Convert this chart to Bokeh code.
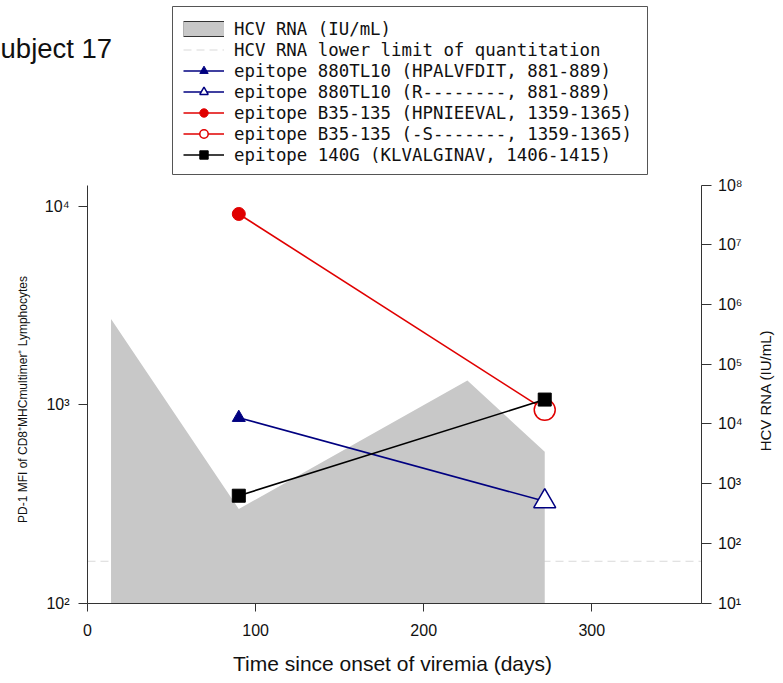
import math
from bokeh.plotting import figure
from bokeh.models import (Range1d, LogScale, LogAxis, LinearAxis, FixedTicker, Legend, LegendItem,
                          Label, CustomJSTickFormatter, BoxAnnotation)
from bokeh.embed import file_html
from bokeh.resources import INLINE

# ---------------- data ----------------
rna_days = [14, 90, 226, 272]
rna_values = [5.7e5, 376, 5.3e4, 3.4e3]
rna_floor = 10
lloq_value = 50
lloq_days = [0, 365]

sample_days = [90, 272]
mfi_880TL10 = [862, 326]      # wild type (filled) -> variant R-------- (open)
mfi_B35_135 = [9200, 944]     # wild type (filled) -> variant -S------- (open)
mfi_140G = [348, 1064]

x_ticks = [0, 100, 200, 300]
left_ticks = [100, 1000, 10000]
right_ticks = [10, 100, 1000, 10000, 100000, 1000000, 10000000, 100000000]

x_bounds = (0, 365)
left_bounds = (100, 10 ** 4.11)
right_bounds = (10, 1e8)

labels = [
    "HCV RNA (IU/mL)",
    "HCV RNA lower limit of quantitation",
    "epitope 880TL10 (HPALVFDIT, 881-889)",
    "epitope 880TL10 (R--------, 881-889)",
    "epitope B35-135 (HPNIEEVAL, 1359-1365)",
    "epitope B35-135 (-S-------, 1359-1365)",
    "epitope 140G (KLVALGINAV, 1406-1415)",
]

NAVY = "#000080"
RED = "#e00000"
BLACK = "#000000"
GRAY = "#c8c8c8"
SANS = "Liberation Sans"

# ---------------- layout geometry (pixels) ----------------
W, H = 775, 675
X0_PX = 87.0          # pixel of day 0
PX_PER_DAY = 1.681
BASE_PX = 602.5       # pixel of the bottom of both y axes
LEFT_DEC = 198.1      # pixels per decade, left axis
RIGHT_DEC = 418.0 / 7 # pixels per decade, right axis

x_start = -X0_PX / PX_PER_DAY
x_end = (W - X0_PX) / PX_PER_DAY
ly_lo = 10 ** (math.log10(left_bounds[0]) - (H - BASE_PX) / LEFT_DEC)
ly_hi = 10 ** (math.log10(left_bounds[0]) + BASE_PX / LEFT_DEC)
ry_lo = 10 ** (math.log10(right_bounds[0]) - (H - BASE_PX) / RIGHT_DEC)
ry_hi = 10 ** (math.log10(right_bounds[0]) + BASE_PX / RIGHT_DEC)

p = figure(width=W, height=H, output_backend="svg", toolbar_location=None,
           x_range=Range1d(x_start, x_end), y_range=Range1d(ly_lo, ly_hi),
           y_axis_type="log", x_axis_location=None, y_axis_location=None,
           min_border=0)
p.outline_line_color = None
p.grid.visible = False
p.background_fill_color = "white"

p.extra_y_ranges = {"rna": Range1d(ry_lo, ry_hi)}
p.extra_y_scales = {"rna": LogScale()}

sup_code = """
const sup = {'0':'\u2070','1':'\u00b9','2':'\u00b2','3':'\u00b3','4':'\u2074','5':'\u2075','6':'\u2076','7':'\u2077','8':'\u2078','9':'\u2079','-':'\u207b'};
const e = Math.round(Math.log10(tick));
return '10' + String(e).split('').map(c => sup[c]).join('');
"""

# ---------------- glyphs ----------------
lloq_r = p.line(lloq_days, [lloq_value] * len(lloq_days), y_range_name="rna",
                line_color="#d9d9d9", line_width=1.2, line_dash="8 5")
p.varea(x=rna_days, y1=[rna_floor] * len(rna_days), y2=rna_values, y_range_name="rna",
        fill_color=GRAY)
# legend-only swatch for the area (hidden in the plot)
area_leg_edge = p.line(rna_days, rna_values, y_range_name="rna", line_color="#333333",
                       line_width=16, line_cap="butt", visible=False)
area_leg_fill = p.line(rna_days, rna_values, y_range_name="rna", line_color=GRAY,
                       line_width=14, line_cap="butt", visible=False)

l880 = p.line(sample_days, mfi_880TL10, line_color=NAVY, line_width=1.6)
s880a = p.scatter(sample_days[:1], mfi_880TL10[:1], marker="triangle", size=13,
                  fill_color=NAVY, line_color=NAVY)
s880b = p.scatter(sample_days[1:], mfi_880TL10[1:], marker="triangle", size=22,
                  fill_color="white", line_color=NAVY, line_width=1.5)

lB35 = p.line(sample_days, mfi_B35_135, line_color=RED, line_width=1.6)
sB35a = p.scatter(sample_days[:1], mfi_B35_135[:1], marker="circle", size=13,
                  fill_color=RED, line_color=RED)
sB35b = p.scatter(sample_days[1:], mfi_B35_135[1:], marker="circle", size=21,
                  fill_color="white", line_color=RED, line_width=1.5)

l140 = p.line(sample_days, mfi_140G, line_color=BLACK, line_width=1.6)
s140 = p.scatter(sample_days, mfi_140G, marker="square", size=13,
                 fill_color=BLACK, line_color=BLACK)

# ---------------- axes ----------------
xa = LinearAxis(fixed_location=left_bounds[0], bounds=x_bounds,
                ticker=FixedTicker(ticks=x_ticks, minor_ticks=[]))
ya = LogAxis(fixed_location=x_bounds[0], bounds=left_bounds,
             ticker=FixedTicker(ticks=left_ticks, minor_ticks=[]),
             formatter=CustomJSTickFormatter(code=sup_code))
ra = LogAxis(y_range_name="rna", fixed_location=x_bounds[1], bounds=right_bounds,
             ticker=FixedTicker(ticks=right_ticks, minor_ticks=[]),
             formatter=CustomJSTickFormatter(code=sup_code))
p.add_layout(xa, "below")
p.add_layout(ya, "left")
p.add_layout(ra, "right")

for ax in (xa, ya, ra):
    ax.axis_line_color = "#333333"
    ax.major_tick_line_color = "#333333"
    ax.major_tick_in = 0
    ax.minor_tick_line_color = None
    ax.major_label_text_font = SANS
    ax.major_label_text_font_size = "16px"
    ax.major_label_text_color = "#111111"

xa.major_tick_out = 8
xa.major_label_standoff = 13
ya.major_tick_out = 9
ya.major_label_standoff = 9
ra.major_tick_out = 10
ra.major_label_standoff = 7

# axis titles
p.add_layout(Label(x=392, y=H - 663, x_units="screen", y_units="screen",
                   text="Time since onset of viremia (days)", text_font=SANS,
                   text_font_size="21px", text_color="#111111",
                   text_align="center", text_baseline="middle"))
p.add_layout(Label(x=22, y=H - 399, x_units="screen", y_units="screen",
                   text="PD-1 MFI of CD8\u207aMHCmultimer\u207a Lymphocytes", text_font=SANS,
                   text_font_size="12px", text_color="#111111", angle=math.pi / 2,
                   text_align="center", text_baseline="middle"))
p.add_layout(Label(x=765, y=H - 390, x_units="screen", y_units="screen",
                   text="HCV RNA (IU/mL)", text_font=SANS,
                   text_font_size="15px", text_color="#111111", angle=math.pi / 2,
                   text_align="center", text_baseline="middle"))

# ---------------- legend ----------------
legend_frame = BoxAnnotation(left=172, right=647, top=H - 6, bottom=H - 174,
                             left_units="screen", right_units="screen",
                             top_units="screen", bottom_units="screen",
                             fill_color="white", fill_alpha=1,
                             line_color="#555555", line_width=1, line_alpha=1)
p.add_layout(legend_frame)

legend = Legend(items=[
    LegendItem(label=labels[0], renderers=[area_leg_edge, area_leg_fill]),
    LegendItem(label=labels[1], renderers=[lloq_r]),
    LegendItem(label=labels[2], renderers=[l880, s880a]),
    LegendItem(label=labels[3], renderers=[l880, s880b]),
    LegendItem(label=labels[4], renderers=[lB35, sB35a]),
    LegendItem(label=labels[5], renderers=[lB35, sB35b]),
    LegendItem(label=labels[6], renderers=[l140, s140]),
], location=(183, H - 165.3))
legend.label_text_font = "DejaVu Sans Mono"
legend.label_text_font_size = "17.4px"
legend.label_text_color = "#111111"
legend.glyph_width = 41
legend.glyph_height = 21
legend.label_height = 21
legend.label_standoff = 10
legend.spacing = 0
legend.padding = 7
legend.margin = 0
legend.border_line_color = None
legend.background_fill_alpha = 0
p.add_layout(legend, "center")

p.add_layout(Label(x=-18.3, y=H - 48, x_units="screen", y_units="screen", text="Subject 17",
                   text_font=SANS, text_font_size="27.5px", text_color="#111111",
                   text_baseline="alphabetic"))

with open("out.html", "w", encoding="utf-8") as f:
    f.write(file_html(p, INLINE))
